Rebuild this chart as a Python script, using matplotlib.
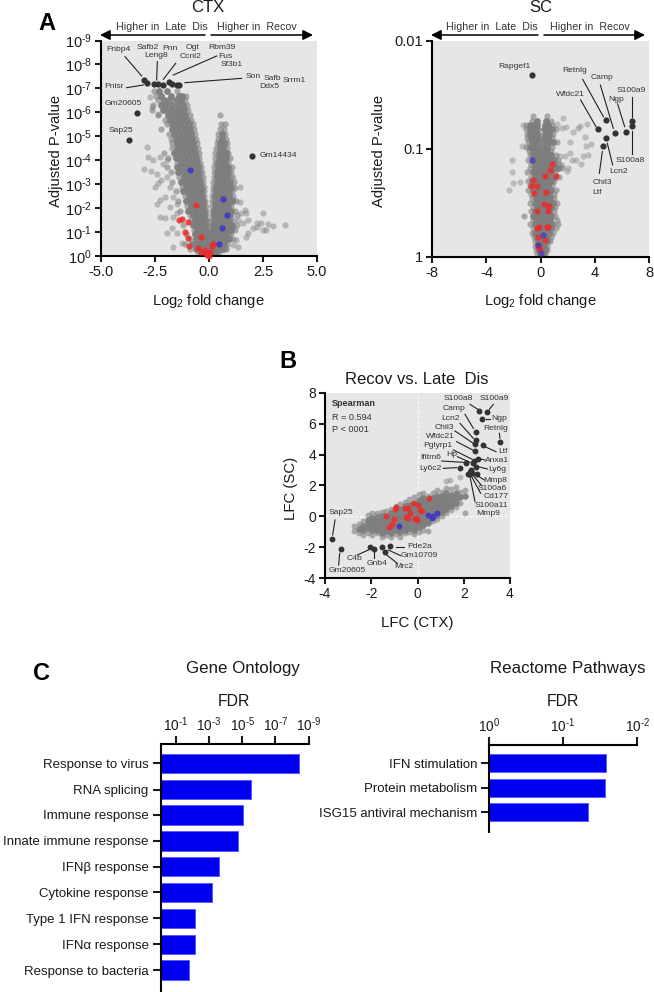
import matplotlib
matplotlib.use("Agg")
import matplotlib.pyplot as plt
from matplotlib.lines import Line2D
from matplotlib.patches import FancyArrowPatch
from matplotlib.transforms import Affine2D

plt.rcParams['font.family'] = ['Liberation Sans', 'DejaVu Sans']
plt.rcParams['mathtext.fontset'] = 'custom'
plt.rcParams['mathtext.rm'] = 'Liberation Sans'
plt.rcParams['mathtext.default'] = 'regular'
plt.rcParams['axes.unicode_minus'] = False

# CTX volcano: grey genes as (-log10 p, [log2 fold changes]) read row by row
ctx_left_rows = [
    (6.9, [-2.55, -2.3, -1.95, -1.5]),
    (6.7, [-2.45, -2.2, -1.75, -1.4, -1.25, -1.05]),
    (6.5, [-2.35, -2.1, -1.85, -1.55, -1.3, -1.1]),
    (6.3, [-2.6, -2.2, -2.0, -1.7, -1.45, -1.2, -1.0]),
    (6.1, [-2.65, -2.15, -1.95, -1.75, -1.55, -1.35, -1.15, -0.95]),
    (5.9, [-2.35, -1.9, -1.7, -1.5, -1.3, -1.1, -0.9]),
    (5.7, [-2.05, -1.8, -1.6, -1.4, -1.2, -1.0, -0.82]),
    (5.5, [-1.95, -1.72, -1.52, -1.32, -1.12, -0.92, -0.75]),
    (5.3, [-2.2, -1.7, -1.48, -1.28, -1.08, -0.88, -0.7]),
    (5.1, [-1.85, -1.62, -1.42, -1.22, -1.02, -0.82, -0.64]),
    (4.9, [-1.75, -1.55, -1.35, -1.15, -0.95, -0.77, -0.6]),
    (4.7, [-1.72, -1.5, -1.3, -1.1, -0.9, -0.72, -0.55]),
    (4.5, [-1.7, -1.48, -1.28, -1.08, -0.88, -0.7, -0.5]),
    (4.3, [-2.1, -1.62, -1.42, -1.22, -1.02, -0.82, -0.64, -0.47]),
    (4.1, [-1.9, -1.55, -1.35, -1.15, -0.95, -0.76, -0.58, -0.44]),
    (3.9, [-1.5, -1.3, -1.1, -0.92, -0.74, -0.56, -0.4]),
    (3.7, [-1.95, -1.48, -1.28, -1.08, -0.88, -0.7, -0.52, -0.36]),
    (3.5, [-1.75, -1.42, -1.22, -1.02, -0.84, -0.66, -0.48, -0.33]),
    (3.3, [-1.38, -1.18, -0.98, -0.8, -0.62, -0.45, -0.3]),
    (3.1, [-1.7, -1.3, -1.1, -0.92, -0.75, -0.58, -0.42, -0.28]),
    (2.9, [-1.25, -1.05, -0.87, -0.7, -0.54, -0.39, -0.25]),
    (2.7, [-1.55, -1.2, -1.0, -0.82, -0.66, -0.5, -0.36, -0.23]),
    (2.5, [-1.12, -0.94, -0.77, -0.61, -0.46, -0.33, -0.21]),
    (2.3, [-1.45, -1.08, -0.9, -0.73, -0.57, -0.43, -0.3, -0.18]),
    (2.1, [-1.0, -0.83, -0.67, -0.52, -0.39, -0.27, -0.16]),
    (1.9, [-1.35, -0.95, -0.78, -0.62, -0.48, -0.36, -0.25, -0.14]),
    (1.7, [-0.88, -0.72, -0.57, -0.44, -0.33, -0.22, -0.12]),
    (1.5, [-0.82, -0.66, -0.52, -0.4, -0.3, -0.2, -0.11]),
    (1.3, [-1.2, -0.76, -0.6, -0.47, -0.36, -0.26, -0.17, -0.1]),
    (1.1, [-0.7, -0.55, -0.42, -0.32, -0.23, -0.15, -0.08]),
    (0.9, [-1.05, -0.65, -0.5, -0.38, -0.28, -0.2, -0.12, -0.06]),
    (0.7, [-0.9, -0.6, -0.45, -0.33, -0.24, -0.16, -0.09, -0.05]),
    (0.5, [-1.1, -0.8, -0.55, -0.4, -0.28, -0.2, -0.12, -0.05]),
    (0.3, [-0.9, -0.6, -0.42, -0.3, -0.2, -0.12, -0.06]),
    (0.15, [-0.5, -0.35, -0.22, -0.12, -0.06]),
]
ctx_right_rows = [
    (5.9, [0.5]),
    (5.5, [0.55, 0.75]),
    (5.3, [0.5, 0.7]),
    (5.1, [0.4, 0.58, 0.76]),
    (4.9, [0.42, 0.6, 0.78]),
    (4.7, [0.36, 0.53, 0.7, 0.85]),
    (4.5, [0.34, 0.5, 0.66, 0.82]),
    (4.3, [0.3, 0.46, 0.62, 0.78, 0.9]),
    (4.1, [0.3, 0.46, 0.62, 0.78, 0.95]),
    (3.9, [0.27, 0.42, 0.58, 0.74, 0.9]),
    (3.7, [0.25, 0.4, 0.56, 0.72, 0.88, 1.05]),
    (3.5, [0.23, 0.38, 0.54, 0.7, 0.86, 1.02]),
    (3.3, [0.22, 0.37, 0.52, 0.68, 0.84, 1.0]),
    (3.1, [0.2, 0.35, 0.5, 0.66, 0.82, 0.98, 1.15]),
    (2.9, [0.19, 0.34, 0.49, 0.64, 0.8, 0.96, 1.1]),
    (2.7, [0.18, 0.32, 0.47, 0.62, 0.78, 0.93, 1.08]),
    (2.5, [0.16, 0.3, 0.45, 0.6, 0.76, 0.92, 1.1]),
    (2.3, [0.15, 0.28, 0.43, 0.58, 0.74, 0.9, 1.05, 1.25]),
    (2.1, [0.14, 0.27, 0.41, 0.56, 0.72, 0.88, 1.02]),
    (1.9, [0.13, 0.25, 0.38, 0.53, 0.68, 0.84, 1.0, 1.2]),
    (1.7, [0.12, 0.24, 0.36, 0.5, 0.65, 0.8, 0.95, 1.3]),
    (1.5, [0.11, 0.22, 0.34, 0.47, 0.62, 0.76, 0.92, 1.1]),
    (1.3, [0.1, 0.2, 0.32, 0.44, 0.58, 0.72, 0.88, 1.05, 1.3]),
    (1.1, [0.09, 0.18, 0.29, 0.41, 0.54, 0.68, 0.84, 1.0, 1.2]),
    (0.9, [0.08, 0.16, 0.26, 0.37, 0.5, 0.64, 0.8, 0.98]),
    (0.7, [0.06, 0.14, 0.24, 0.34, 0.46, 0.6, 0.74, 0.92, 1.1]),
    (0.5, [0.05, 0.12, 0.2, 0.3, 0.42, 0.56, 0.7, 0.85]),
    (0.3, [0.04, 0.1, 0.18, 0.27, 0.38, 0.5, 0.64, 0.8]),
    (0.15, [0.03, 0.08, 0.15, 0.24, 0.34, 0.46]),
]
ctx_grey_extra = [
    (-2.89, 4.56), (-3.01, 3.65), (-2.70, 3.54), (-2.40, 3.42), (-2.35, 3.03),
    (-2.27, 2.33), (-2.50, 2.89), (-2.27, 1.64), (-2.04, 1.57), (-1.50, 1.78),
    (-1.66, 2.47), (-1.73, 1.15), (1.73, 1.78), (2.50, 1.81), (2.20, 1.39),
    (2.43, 1.36), (2.74, 1.33), (2.97, 1.25), (3.50, 1.28), (2.50, 1.08),
    (2.04, 1.15), (1.81, 1.50), (1.58, 1.36), (1.73, 0.81), (1.35, 0.39),
    (1.12, 0.46), (1.43, 2.26), (1.12, 3.30), (1.19, 2.82), (1.66, 1.92),
    (1.35, 1.50), (2.20, 1.22), (2.66, 1.08),
    (-2.81, 4.14), (-2.58, 4.00), (-2.27, 4.14), (-2.12, 3.86), (-1.96, 4.00),
    (-1.96, 3.31), (-2.20, 3.17), (-1.81, 2.89), (-2.04, 2.47), (-1.81, 2.06),
    (-1.50, 2.19), (-2.43, 2.19), (-1.66, 1.64), (-1.96, 0.94), (-1.50, 0.94),
    (-1.27, 0.53), (-1.66, 0.39), (-2.73, 6.64), (-2.66, 6.22), (-2.35, 5.94),
    (1.12, 2.33), (1.43, 2.89), (1.50, 1.78), (1.12, 1.22), (1.81, 0.94),
    (0.81, 0.32), (1.04, 0.94), (1.27, 0.67),
]
ctx_black = [
    (-3.01, 7.33), (-2.87, 7.22), (-2.55, 7.19), (-2.38, 7.19), (-2.12, 7.15),
    (-1.86, 7.28), (-1.70, 7.18), (-1.47, 7.15), (-1.38, 7.15), (-3.35, 5.97),
    (-3.69, 4.83), (2.00, 4.19),
]
ctx_blue = [(-0.86, 3.61), (0.65, 2.39), (0.84, 1.72), (0.58, 1.15), (0.44, 0.49)]
ctx_red = [
    (-0.58, 2.15), (-1.38, 1.50), (-1.24, 1.56), (-0.96, 1.43), (-1.09, 1.01),
    (-0.99, 0.74), (-0.38, 0.81), (-0.93, 0.43), (-0.53, 0.32), (0.19, 0.50),
    (0.16, 0.42), (-0.19, 0.25), (-0.35, 0.18), (0.04, 0.15), (-0.08, 0.04),
    (0.00, 0.00), (-0.04, 0.11), (-0.15, 0.11),
]

# SC volcano, same layout
sc_rows = [
    (1.30, [-0.6, 0.45]),
    (1.26, [-0.65, -0.3, 0.4, 0.75]),
    (1.22, [-1.1, -0.8, -0.5, -0.3, 0.3, 0.55, 0.85]),
    (1.18, [-1.1, -0.8, -0.55, -0.25, 0.25, 0.55, 0.85, 1.1]),
    (1.14, [-1.0, -0.75, -0.45, -0.2, 0.3, 0.6, 0.9]),
    (1.10, [-1.0, -0.7, -0.45, -0.2, 0.25, 0.55, 0.85]),
    (1.06, [-0.95, -0.65, -0.4, -0.15, 0.3, 0.6, 0.9, 1.2]),
    (1.02, [-1.1, -0.8, -0.55, -0.3, 0.2, 0.5, 0.85]),
    (0.98, [-0.85, -0.55, -0.3, -0.1, 0.25, 0.5, 0.8]),
    (0.94, [-0.8, -0.55, -0.3, -0.1, 0.15, 0.45, 0.75, 1.1]),
    (0.90, [-0.95, -0.6, -0.35, -0.12, 0.12, 0.4, 0.7, 1.0, 1.3]),
    (0.86, [-0.7, -0.45, -0.2, 0.1, 0.35, 0.65, 1.0, 1.35]),
    (0.82, [-0.75, -0.45, -0.2, 0.08, 0.35, 0.65, 0.95, 1.25, 1.6]),
    (0.78, [-1.0, -0.6, -0.35, -0.1, 0.15, 0.45, 0.75, 1.05]),
    (0.74, [-0.7, -0.4, -0.15, 0.1, 0.4, 0.7, 1.0, 1.35]),
    (0.70, [-0.95, -0.65, -0.35, -0.1, 0.15, 0.45, 0.75, 1.0]),
    (0.66, [-0.8, -0.5, -0.25, 0.0, 0.25, 0.55, 0.85]),
    (0.62, [-0.9, -0.6, -0.3, -0.05, 0.2, 0.5, 0.8, 1.1]),
    (0.58, [-0.7, -0.4, -0.15, 0.1, 0.35, 0.65, 0.95]),
    (0.54, [-0.65, -0.35, -0.1, 0.15, 0.4, 0.7, 0.95]),
    (0.50, [-0.8, -0.45, -0.2, 0.05, 0.3, 0.6, 0.9, 1.2]),
    (0.46, [-0.6, -0.3, -0.05, 0.2, 0.45, 0.75, 1.05]),
    (0.42, [-0.7, -0.4, -0.15, 0.1, 0.35, 0.65, 0.95]),
    (0.38, [-1.2, -0.55, -0.3, -0.05, 0.2, 0.45, 0.75, 1.05]),
    (0.34, [-0.6, -0.35, -0.1, 0.15, 0.4, 0.7, 1.2]),
    (0.30, [-0.8, -0.45, -0.2, 0.05, 0.3, 0.55, 0.85, 1.3]),
    (0.26, [-0.55, -0.3, -0.05, 0.2, 0.45, 0.75, 1.1]),
    (0.22, [-0.65, -0.4, -0.15, 0.1, 0.35, 0.6, 0.9]),
    (0.18, [-0.5, -0.25, 0.0, 0.25, 0.5, 0.8]),
    (0.14, [-0.45, -0.2, 0.02, 0.25, 0.5, 0.7]),
    (0.10, [-0.4, -0.18, 0.05, 0.28, 0.5]),
    (0.06, [-0.35, -0.12, 0.1, 0.3, 0.45]),
    (0.02, [-0.25, -0.05, 0.15, 0.35]),
]
sc_grey_extra = [
    (-2.14, 0.90), (-2.09, 0.78), (-2.02, 0.68), (-2.34, 0.62), (-1.53, 0.69),
    (-1.40, 1.03), (-1.28, 1.22), (1.18, 1.23), (1.67, 1.29), (1.55, 1.19),
    (1.85, 1.20), (2.17, 1.06), (2.29, 0.90), (2.61, 0.90), (2.96, 0.86),
    (3.15, 0.93), (3.52, 0.94), (3.28, 1.11), (2.91, 1.21), (3.45, 1.23),
    (2.78, 1.19), (3.35, 1.03), (3.69, 1.04), (1.92, 0.79), (2.04, 0.82),
    (1.55, 0.85), (1.43, 0.93), (1.80, 0.93), (2.17, 0.96), (2.41, 1.16),
]
sc_black = [
    (-0.67, 1.68), (4.80, 1.27), (4.21, 1.18), (5.47, 1.15), (6.28, 1.16),
    (6.77, 1.26), (6.77, 1.21), (4.85, 1.10), (4.61, 1.03),
]
sc_red = [
    (0.86, 0.86), (0.71, 0.80), (0.34, 0.75), (1.16, 0.75), (-0.59, 0.71),
    (-0.71, 0.65), (-0.27, 0.65), (-0.49, 0.59), (0.37, 0.60), (0.25, 0.49),
    (0.64, 0.47), (-0.30, 0.42), (0.54, 0.42), (-0.30, 0.26), (-0.12, 0.27),
    (0.44, 0.27), (0.52, 0.27), (-0.17, 0.18), (0.30, 0.15), (-0.12, 0.08),
    (-0.05, 0.06), (-0.17, 0.11),
]
sc_blue = [(-0.67, 0.90), (0.20, 0.20), (0.05, 0.03), (-0.17, 0.11)]

# Recov vs Late Dis correlation: (LFC CTX, [LFC SC])
lfc_columns = [
    (-2.75, [-0.95, -0.65]),
    (-2.55, [-1.1, -0.8, -0.5]),
    (-2.35, [-1.2, -0.9, -0.6, -0.3]),
    (-2.15, [-1.05, -0.75, -0.5, -0.2, 0.1]),
    (-1.95, [-1.2, -0.9, -0.65, -0.35, -0.1, 0.2]),
    (-1.75, [-1.1, -0.85, -0.6, -0.3, -0.05, 0.25]),
    (-1.55, [-1.35, -1.05, -0.8, -0.5, -0.25, 0.0, 0.3]),
    (-1.35, [-1.2, -0.95, -0.7, -0.45, -0.2, 0.05, 0.35]),
    (-1.15, [-1.3, -1.05, -0.8, -0.55, -0.3, -0.05, 0.2, 0.5]),
    (-0.95, [-1.15, -0.9, -0.65, -0.4, -0.15, 0.1, 0.35, 0.65]),
    (-0.75, [-1.3, -1.0, -0.75, -0.5, -0.25, 0.0, 0.25, 0.5, 0.8]),
    (-0.55, [-1.1, -0.85, -0.6, -0.35, -0.1, 0.15, 0.4, 0.65, 0.95]),
    (-0.35, [-1.0, -0.75, -0.5, -0.25, 0.0, 0.25, 0.5, 0.75, 1.1]),
    (-0.15, [-1.15, -0.85, -0.6, -0.35, -0.1, 0.15, 0.4, 0.65, 0.9, 1.25]),
    (0.05, [-1.0, -0.7, -0.45, -0.2, 0.05, 0.3, 0.55, 0.8, 1.05, 1.45]),
    (0.25, [-0.85, -0.55, -0.3, -0.05, 0.2, 0.45, 0.7, 0.95, 1.2, 1.5]),
    (0.45, [-0.95, -0.45, -0.2, 0.05, 0.3, 0.55, 0.8, 1.05, 1.3]),
    (0.65, [-0.3, -0.05, 0.2, 0.45, 0.7, 0.95, 1.2, 1.5]),
    (0.85, [-0.15, 0.1, 0.35, 0.6, 0.85, 1.1, 1.35, 1.7]),
    (1.05, [0.05, 0.3, 0.55, 0.8, 1.05, 1.3, 1.6]),
    (1.25, [0.2, 0.45, 0.7, 0.95, 1.2, 1.5, 1.85]),
    (1.45, [0.4, 0.65, 0.9, 1.15, 1.4, 1.75]),
    (1.65, [0.6, 0.9, 1.2, 1.5, 1.9]),
    (1.85, [0.9, 1.25, 1.6]),
    (2.05, [0.2, 1.3, 1.7]),
]
lfc_grey_extra = [(1.84, 2.52), (1.40, 2.35), (1.22, 2.31)]
lfc_black = [
    (2.67, 6.81), (3.02, 6.77), (2.80, 6.31), (2.51, 5.47), (2.51, 4.91),
    (2.50, 4.68), (3.57, 4.81), (2.83, 4.61), (2.49, 4.25), (2.60, 3.71),
    (2.46, 3.60), (2.38, 3.43), (2.10, 3.47), (1.84, 3.15), (2.53, 3.21),
    (2.30, 3.00), (2.27, 2.89), (2.57, 2.74), (2.37, 2.78), (2.24, 2.72),
    (2.20, 2.72), (-3.68, -1.47), (-3.32, -2.09), (-2.07, -2.00), (-1.87, -2.11),
    (-1.52, -2.00), (-1.42, -2.33), (-1.19, -1.94),
]
lfc_red = [
    (-0.93, 0.63), (-0.96, 0.50), (-1.38, 0.04), (-1.00, -0.17), (-1.12, -0.50),
    (-1.25, -0.71), (-0.54, 0.52), (-0.40, 0.52), (-0.18, 0.88), (0.04, 0.73),
    (0.11, 0.41), (0.21, 0.37), (-0.51, -0.06), (-0.40, -0.13), (-0.11, -0.17),
    (-0.06, -0.13), (-0.01, -0.24), (0.50, 1.19), (-0.32, 0.19),
]
lfc_blue = [(-0.81, -0.65), (0.47, 0.09), (0.61, -0.13), (0.86, 0.19), (0.68, 0.02)]

# Enrichment bars, -log10 FDR
go_terms = ['Response to virus', 'RNA splicing', 'Immune response',
            'Innate immune response', 'IFNβ response', 'Cytokine response',
            'Type 1 IFN response', 'IFNα response', 'Response to bacteria']
go_fdr = [8.41, 5.53, 5.05, 4.76, 3.60, 3.18, 2.15, 2.15, 1.80]
reactome_terms = ['IFN stimulation', 'Protein metabolism', 'ISG15 antiviral mechanism']
reactome_fdr = [1.58, 1.57, 1.34]

GREY = '#7d7d7d'
RED = '#ec2b2b'
BLUE = '#3d3dc4'
BLACK = '#333333'
BG = '#e6e6e6'
TXT = '#1a1a1a'
LABEL = '#333333'

W, H = 654, 992
fig = plt.figure(figsize=(W / 100, H / 100), dpi=100)
px = Affine2D().scale(1 / W, -1 / H).translate(0, 1) + fig.transFigure


def make_axes(left, top, right, bottom):
    return fig.add_axes([left / W, 1 - bottom / H, (right - left) / W, (bottom - top) / H])


def txt(x, y, s, size=6.1, color=LABEL, ha='center', va='center', **kw):
    fig.text(x, y, s, fontsize=size, color=color, ha=ha, va=va, transform=px, **kw)


def lead(x0, y0, x1, y1, lw=0.8, color='#222222'):
    fig.add_artist(Line2D([x0, x1], [y0, y1], color=color, lw=lw, transform=px))


def dots(ax, pts, color, size, alpha=1.0, zorder=4):
    xs = [p[0] for p in pts]
    ys = [p[1] for p in pts]
    ax.scatter(xs, ys, s=size, c=color, alpha=alpha, linewidths=0, zorder=zorder, clip_on=False)


def cloud(ax, rows, size, by_column=False):
    # first and last genes of a row are the fringe of the cloud, so drawn lighter
    fringe, core = [], []
    for key, vals in rows:
        for i, v in enumerate(vals):
            pt = (key, v) if by_column else (v, key)
            (fringe if i in (0, len(vals) - 1) else core).append(pt)
    dots(ax, fringe, GREY, size, alpha=0.6, zorder=2)
    dots(ax, core, GREY, size + 4, alpha=0.95, zorder=2.5)


def style_axes(ax, labelsize=10.5):
    ax.set_facecolor(BG)
    for side in ['top', 'right']:
        ax.spines[side].set_visible(False)
    for side in ['left', 'bottom']:
        ax.spines[side].set_linewidth(1.5)
    ax.tick_params(width=1.5, length=4.5, labelsize=labelsize, pad=2, colors=TXT)


def volcano_header(mid, left, right, text_left, text_right):
    txt(text_left, 27, 'Higher in  Late  Dis', size=7.7)
    txt(text_right, 27, 'Higher in  Recov', size=7.7)
    for start, end in [(mid - 3, left), (mid + 3, right)]:
        fig.add_artist(FancyArrowPatch(
            (start, 35), (end, 35), transform=px, arrowstyle='-|>', mutation_scale=15,
            color='black', lw=1.1, shrinkA=0, shrinkB=0))


def pow_label(exp):
    return '10$^{\\text{%s}}$' % exp


def draw_labels(labels, leaders, ox, oy):
    # positions measured in the 3x zoom of the picture
    for zx, zy, s in labels:
        txt(ox + zx / 3, oy + zy / 3, s)
    for x0, y0, x1, y1 in leaders:
        lead(ox + x0 / 3, oy + y0 / 3, ox + x1 / 3, oy + y1 / 3)


# A, CTX
ax = make_axes(101, 40.5, 317, 256)
style_axes(ax)
cloud(ax, ctx_left_rows + ctx_right_rows, 20)
dots(ax, ctx_grey_extra, GREY, 20, alpha=0.45, zorder=2)
dots(ax, ctx_black, BLACK, 20)
dots(ax, ctx_red, RED, 20, alpha=0.85)
dots(ax, ctx_blue, BLUE, 20, alpha=0.95)
ax.set_xlim(-5, 5)
ax.set_ylim(0, 9)
ax.set_xticks([-5, -2.5, 0, 2.5, 5], ['-5.0', '-2.5', '0.0', '2.5', '5.0'])
ax.set_yticks(range(10), [pow_label(-e if e else 0) for e in range(10)])
ax.set_xlabel('Log$_2$ fold change', fontsize=10.6, color=TXT)
ax.xaxis.set_label_coords(208, 292, transform=px)
ax.set_ylabel('Adjusted P-value', fontsize=10.6, color=TXT)
ax.yaxis.set_label_coords(63, 151, transform=px)
txt(208, 8, 'CTX', size=12, color=TXT)
volcano_header(208, 100, 313, 162, 257)
draw_labels([
    (355, 149, 'Fnbp4'), (442, 143, 'Safb2'), (510, 145, 'Pnn'), (576, 143, 'Ogt'),
    (665, 143, 'Rbm39'), (469, 167, 'Leng8'), (676, 168, 'Fus'), (573, 171, 'Ccnl2'),
    (695, 193, 'Sf3b1'), (760, 230, 'Son'), (817, 236, 'Safb'), (883, 241, 'Srrm1'),
    (809, 261, 'Ddx5'), (342, 260, 'Pnisr'), (370, 311, 'Gm20605'), (362, 393, 'Sap25'),
    (835, 467, 'Gm14434'),
], [
    (375, 170, 425, 228), (472, 185, 470, 240), (527, 190, 490, 238),
    (650, 168, 520, 225), (555, 248, 725, 235), (380, 263, 430, 255),
], 0, 0)

# A, SC
ax = make_axes(432.3, 41, 649, 256.5)
style_axes(ax)
cloud(ax, sc_rows, 20)
dots(ax, sc_grey_extra, GREY, 20, alpha=0.4, zorder=2)
dots(ax, sc_black, BLACK, 20)
dots(ax, sc_red, RED, 20, alpha=0.85)
dots(ax, sc_blue, BLUE, 20, alpha=0.75)
ax.set_xlim(-8, 8)
ax.set_ylim(0, 2)
ax.set_xticks([-8, -4, 0, 4, 8], ['-8', '-4', '0', '4', '8'])
ax.set_yticks([0, 1, 2], ['1', '0.1', '0.01'])
ax.set_xlabel('Log$_2$ fold change', fontsize=10.6, color=TXT)
ax.xaxis.set_label_coords(540, 292, transform=px)
ax.set_ylabel('Adjusted P-value', fontsize=10.6, color=TXT)
ax.yaxis.set_label_coords(386, 151, transform=px)
txt(541, 8, 'SC', size=12, color=TXT)
volcano_header(541, 431, 645, 492, 590)
draw_labels([
    (523, 201, 'Rapgef1'), (703, 212, 'Retnlg'), (786, 232, 'Camp'), (690, 284, 'Wfdc21'),
    (828, 298, 'Ngp'), (875, 270, 'S100a9'), (872, 481, 'S100a8'), (835, 515, 'Lcn2'),
    (787, 546, 'Chil3'), (772, 576, 'Ltf'),
], [
    (728, 238, 790, 350), (781, 255, 820, 385), (722, 300, 768, 380), (833, 312, 854, 380),
    (875, 290, 875, 350), (877, 392, 877, 462), (802, 430, 818, 495), (787, 455, 778, 520),
], 340, 0)

# B
ax = make_axes(325, 392.7, 510, 578.3)
style_axes(ax, labelsize=10)
ax.axvline(0, color='white', lw=0.9, ls=(0, (2, 2)), zorder=1)
ax.axhline(0, color='white', lw=0.9, ls=(0, (2, 2)), zorder=1)
cloud(ax, lfc_columns, 18, by_column=True)
dots(ax, lfc_grey_extra, GREY, 18, alpha=0.45, zorder=2)
dots(ax, lfc_black, BLACK, 18)
dots(ax, lfc_red, RED, 18, alpha=0.85)
dots(ax, lfc_blue, BLUE, 18, alpha=0.95)
ax.set_xlim(-4, 4)
ax.set_ylim(-4, 8)
ax.set_xticks([-4, -2, 0, 2, 4], ['-4', '-2', '0', '2', '4'])
ax.set_yticks([-4, -2, 0, 2, 4, 6, 8], ['-4', '-2', '0', '2', '4', '6', '8'])
ax.set_xlabel('LFC (CTX)', fontsize=10.8, color=TXT)
ax.xaxis.set_label_coords(417, 616, transform=px)
ax.set_ylabel('LFC (SC)', fontsize=10.8, color=TXT)
ax.yaxis.set_label_coords(298, 488, transform=px)
txt(417, 380, 'Recov vs. Late  Dis', size=12, color=TXT)
txt(332, 404, 'Spearman', size=6.6, ha='left', fontweight='bold')
txt(332, 417, 'R = 0.594', size=6.6, ha='left')
txt(332, 430, 'P < 0001', size=6.6, ha='left')
draw_labels([
    (656, 160, 'S100a8'), (763, 160, 'S100a9'), (642, 190, 'Camp'), (778, 221, 'Ngp'),
    (632, 220, 'Lcn2'), (766, 252, 'Retnlg'), (613, 248, 'Chil3'), (602, 276, 'Wfdc21'),
    (790, 320, 'Ltf'), (594, 301, 'Pglyrp1'), (635, 330, 'Hp'), (771, 345, 'Anxa1'),
    (572, 337, 'Ifitm6'), (572, 369, 'Ly6c2'), (772, 374, 'Ly6g'), (766, 405, 'Mmp8'),
    (756, 432, 'S100a6'), (768, 454, 'Cd177'), (754, 481, 'S100a11'), (744, 505, 'Mmp9'),
    (303, 501, 'Sap25'), (323, 676, 'Gm20605'), (344, 641, 'C4b'), (412, 655, 'Gnb4'),
    (491, 665, 'Mrc2'), (538, 604, 'Pde2a'), (537, 632, 'Gm10709'),
], [
    (690, 178, 712, 192), (760, 178, 748, 193), (738, 221, 750, 221), (675, 208, 700, 250),
    (660, 235, 700, 280), (645, 258, 700, 295), (650, 290, 698, 315), (640, 315, 695, 342),
    (652, 335, 690, 352), (605, 348, 670, 352), (610, 370, 650, 368), (735, 305, 768, 320),
    (778, 265, 780, 280), (720, 342, 735, 345), (715, 365, 742, 372), (712, 392, 733, 405),
    (700, 392, 725, 422), (695, 395, 722, 445), (690, 395, 705, 470), (285, 525, 278, 570),
    (299, 625, 296, 660), (385, 615, 352, 630), (403, 620, 403, 640), (440, 630, 472, 655),
    (445, 615, 482, 632), (467, 605, 492, 605),
], 240, 345)


def bar_panel(left, top, right, bottom, terms, values, y_pos, bar_h, xlim, xticks, xlabels):
    ax = make_axes(left, top, right, bottom)
    ax.barh(y_pos, [v - xlim[0] for v in values], left=xlim[0], height=bar_h,
            color='#0000f0', edgecolor='#5a5aff', linewidth=0.7, zorder=2)
    ax.set_xlim(*xlim)
    ax.set_ylim(bottom, top)
    ax.xaxis.tick_top()
    ax.set_xticks(xticks, xlabels)
    ax.set_yticks(y_pos, terms)
    for side in ['bottom', 'right']:
        ax.spines[side].set_visible(False)
    for side in ['left', 'top']:
        ax.spines[side].set_linewidth(1.5)
    ax.tick_params(axis='both', width=1.5, length=5.5, colors=TXT)
    ax.tick_params(axis='x', labelsize=9.8, pad=1.5)
    ax.tick_params(axis='y', labelsize=9.5, pad=3)
    return ax


# C
bar_panel(160.5, 744, 308.5, 991, go_terms, go_fdr,
          [763.3, 789.7, 815, 841, 866.7, 892.3, 918.3, 944.3, 970], 19.3,
          (0.064, 9), [1, 3, 5, 7, 9], [pow_label(-e) for e in [1, 3, 5, 7, 9]])
bar_panel(489, 745, 637.3, 832, reactome_terms, reactome_fdr,
          [763.3, 787.7, 812], 18.3,
          (0, 2), [0, 1, 2], [pow_label(0), pow_label(-1), pow_label(-2)])
txt(243, 669, 'Gene Ontology', size=12.2, color=TXT)
txt(234, 701, 'FDR', size=11.4, color=TXT)
txt(568, 669, 'Reactome Pathways', size=12.2, color=TXT)
txt(563, 701, 'FDR', size=11.4, color=TXT)

txt(47, 23, 'A', size=17, color='black', fontweight='bold')
txt(288, 362, 'B', size=17, color='black', fontweight='bold')
txt(41, 673, 'C', size=17, color='black', fontweight='bold')

fig.savefig('out.png', dpi=100)
